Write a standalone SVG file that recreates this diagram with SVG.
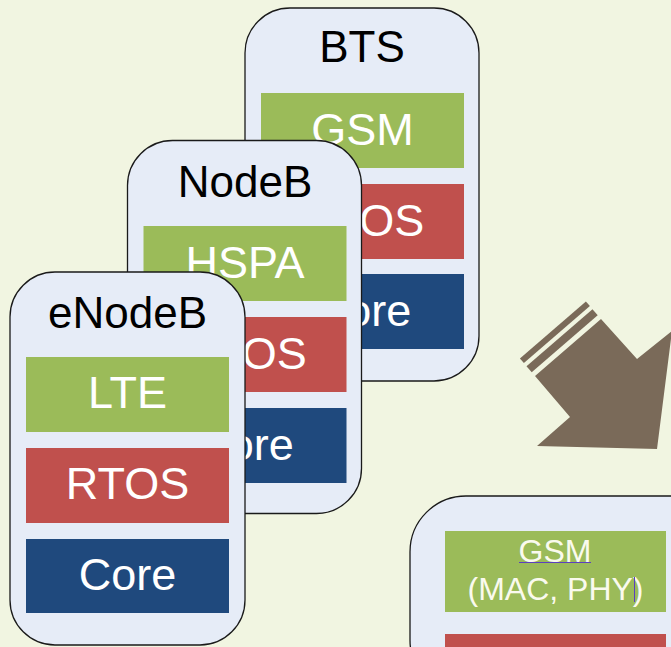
<svg xmlns="http://www.w3.org/2000/svg" width="671" height="647" viewBox="0 0 671 647">
<style>
.node{fill:#E6ECF7;stroke:#1a1a1a;stroke-width:1.3}
.title{font-family:"Liberation Sans",Arial,sans-serif;font-size:44px;fill:#000;text-anchor:middle}
.lbl{font-family:"Liberation Sans",Arial,sans-serif;font-size:45px;fill:#fff;text-anchor:middle}
.g{fill:#9BBB59}.r{fill:#C0504D}.b{fill:#1F497D}
.arrow{fill:#7A6A59}
</style>
<rect width="671" height="647" fill="#F1F5E1"/>
<g id="bts">
<rect class="node" x="245" y="8" width="234" height="373" rx="45"/>
<text class="title" x="362" y="62">BTS</text>
<rect class="g" x="261" y="93" width="203" height="75"/>
<text class="lbl" x="362.5" y="145">GSM</text>
<rect class="r" x="261" y="184" width="203" height="75"/>
<text class="lbl" x="362.5" y="236">RTOS</text>
<rect class="b" x="261" y="274" width="203" height="75"/>
<text class="lbl" x="362.5" y="326">Core</text>
</g>
<g id="nodeb">
<rect class="node" x="127.5" y="140.5" width="234" height="373" rx="45"/>
<text class="title" x="245" y="197">NodeB</text>
<rect class="g" x="143.5" y="226" width="203" height="75"/>
<text class="lbl" x="245" y="278">HSPA</text>
<rect class="r" x="143.5" y="317" width="203" height="75"/>
<text class="lbl" x="245" y="369">RTOS</text>
<rect class="b" x="143.5" y="408" width="203" height="75"/>
<text class="lbl" x="245" y="460">Core</text>
</g>
<g id="enodeb">
<rect class="node" x="10" y="272" width="235" height="373" rx="45"/>
<text class="title" x="127.5" y="328">eNodeB</text>
<rect class="g" x="26" y="357" width="203" height="75"/>
<text class="lbl" x="127.5" y="408">LTE</text>
<rect class="r" x="26" y="448" width="203" height="75"/>
<text class="lbl" x="127.5" y="499">RTOS</text>
<rect class="b" x="26" y="539" width="203" height="74"/>
<text class="lbl" x="127.5" y="590">Core</text>
</g>
<g id="arrow">
<polygon class="arrow" points="535,376 601,319 637,359 672,331 657,449 537,446 570,417"/>
<polygon class="arrow" points="531.7,372.2 597.7,315.2 592.5,309.2 526.5,366.2"/>
<polygon class="arrow" points="523.9,363.1 589.9,306.1 585.9,301.6 519.9,358.6"/>
</g>
<g id="newnode">
<rect class="node" x="410" y="496" width="320" height="200" rx="56"/>
<rect class="g" x="445" y="531" width="221" height="81"/>
<text font-family="Liberation Sans, Arial, sans-serif" font-size="32" fill="#FAFAEE" text-anchor="middle" x="555" y="562">GSM</text>
<text font-family="Liberation Sans, Arial, sans-serif" font-size="32" fill="#FAFAEE" text-anchor="middle" x="555.5" y="600">(MAC, PHY)</text>
<line x1="519" y1="562.5" x2="591" y2="562.5" stroke="#5B3FC0" stroke-width="1"/>
<line x1="634.5" y1="577" x2="634.5" y2="602" stroke="#5B3FC0" stroke-width="1"/>
<rect class="r" x="445" y="634" width="221" height="20"/>
</g>
</svg>
